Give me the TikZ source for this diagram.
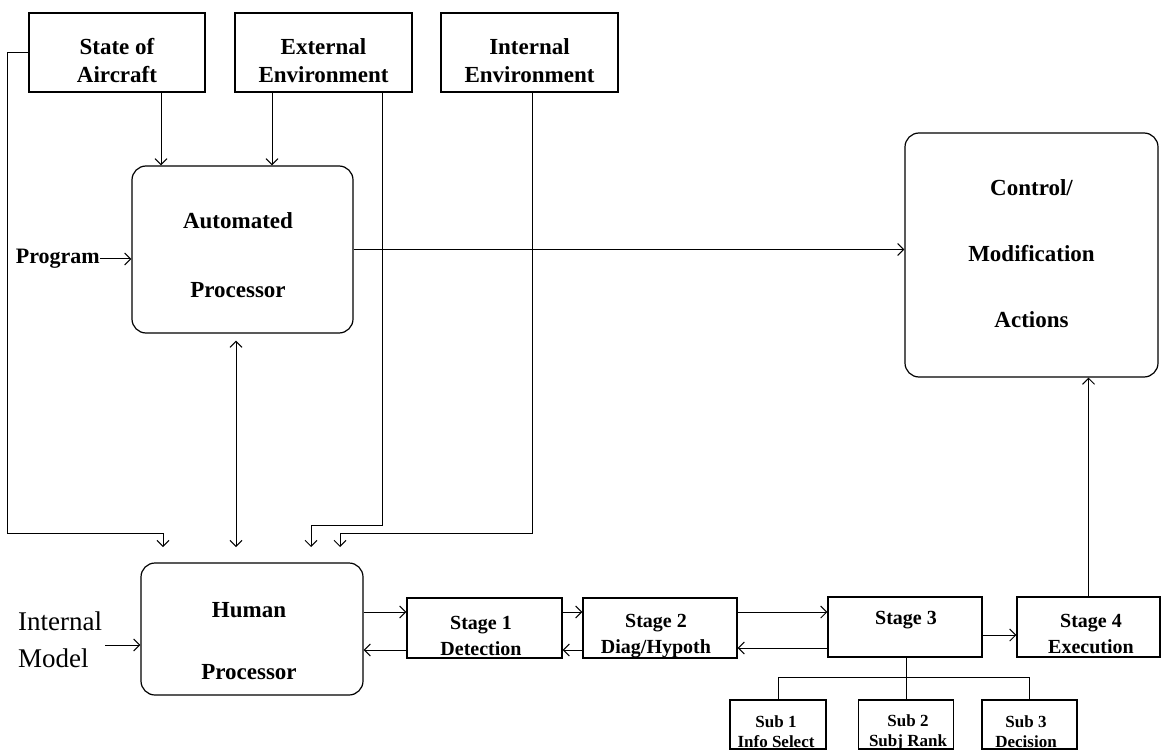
\documentclass[tikz,border=0pt]{standalone}
\usepackage{fontspec}
\setmainfont{Liberation Serif}
\usetikzlibrary{arrows.meta,calc}
\begin{document}
\begin{tikzpicture}[x=1pt,y=-1pt,
  box/.style={draw, line width=1.2pt, inner sep=0pt},
  rbox/.style={box, rounded corners=14pt},
  lbl/.style={align=center, inner sep=0pt, font=\bfseries\fontsize{23}{28}\selectfont},
  conn/.style={line width=1pt},
  arr/.style={conn, -{Straight Barb[length=6pt,width=12pt]}},
  darr/.style={conn, {Straight Barb[length=6pt,width=12pt]}-{Straight Barb[length=6pt,width=12pt]}}
]
\useasboundingbox (0,0) rectangle (1161,751);

% top boxes
\node[box, minimum width=176pt, minimum height=79pt] (state) at (117,52.5) {};
\node[lbl] (stateT) at (117,61) {State of\\Aircraft};
\node[box, minimum width=177pt, minimum height=79pt] (ext) at (323.5,52.5) {};
\node[lbl] (extT) at (323.5,61) {External\\Environment};
\node[box, minimum width=177pt, minimum height=79pt] (int) at (529.5,52.5) {};
\node[lbl] (intT) at (529.5,61) {Internal\\Environment};

% automated processor
\node[rbox, minimum width=221pt, minimum height=167pt] (auto) at (242.5,249.5) {};
\node[lbl, font=\bfseries\fontsize{23}{69}\selectfont] (autoT) at (238,255.5) {Automated\\Processor};
\node[lbl, font=\bfseries\fontsize{22}{26}\selectfont, anchor=east] (prog) at (100,259) {Program};
\draw[arr] (prog.east) -- (prog.east -| auto.west);

% control box
\node[rbox, minimum width=253pt, minimum height=244pt] (ctrl) at (1031.5,255) {};
\node[lbl, font=\bfseries\fontsize{23}{66}\selectfont] (ctrlT) at (1031.5,253.5) {Control/\\Modification\\Actions};
\draw[arr] (auto.east) -- (auto.east -| ctrl.west);

% human processor
\node[rbox, minimum width=222pt, minimum height=132pt] (hum) at (252,629) {};
\node[lbl, font=\bfseries\fontsize{23}{62}\selectfont] (humT) at (249,641) {Human\\Processor};
\node[align=left, inner sep=0pt, font=\fontsize{27}{37}\selectfont, anchor=west] (im) at (18,640) {Internal\\Model};
\coordinate (imA) at (105,645);
\draw[arr] (imA) -- (imA -| hum.west);

% inputs to human processor
\coordinate (t1) at (163,547);
\coordinate (t2) at (236,547);
\coordinate (t3) at (311,547);
\coordinate (t4) at (340,547);
\draw[arr] (state.west) -- (7,52.5) -- (7,533) -- (163,533) -- (t1);
\draw[arr] ([xshift=44pt]state.south) -- ([xshift=44pt]state.south |- auto.north);
\draw[arr] ([xshift=-51.5pt]ext.south) -- ([xshift=-51.5pt]ext.south |- auto.north);
\draw[arr] ([xshift=58.5pt]ext.south) -- ++(0,433) -| (t3);
\draw[arr] ([xshift=2.5pt]int.south) -- ++(0,441) -| (t4);
\draw[darr] ([yshift=-7pt]auto.south -| t2) -- (t2);

% stages
\tikzset{stlbl/.style={lbl, font=\bfseries\fontsize{20}{26}\selectfont}}
\node[box, minimum width=155pt, minimum height=60pt] (s1) at (484.5,628) {};
\node[stlbl] (s1T) at (481,636) {Stage 1\\Detection};
\node[box, minimum width=154pt, minimum height=60pt] (s2) at (660,628) {};
\node[stlbl] (s2T) at (656,636) {Stage 2\\Diag/Hypoth};
\node[box, minimum width=154pt, minimum height=60pt] (s3) at (905,627) {};
\node[stlbl] (s3T) at (906,620) {Stage 3};
\node[box, minimum width=143pt, minimum height=60pt] (s4) at (1088.5,627) {};
\node[stlbl] (s4T) at (1091,634) {Stage 4\\Execution};

\draw[arr] (hum.east |- 0,612) -- (s1.west |- 0,612);
\draw[arr] (s1.west |- 0,650) -- (hum.east |- 0,650);
\draw[arr] (s1.east |- 0,612) -- (s2.west |- 0,612);
\draw[arr] (s2.west |- 0,650) -- (s1.east |- 0,650);
\draw[arr] (s2.east |- 0,612) -- (s3.west |- 0,612);
\draw[arr] (s3.west |- 0,648) -- (s2.east |- 0,648);
\draw[arr] (s3.east |- 0,635) -- (s4.west |- 0,635);
\draw[arr] (s4.north) -- (s4.north |- ctrl.south);

% sub boxes
\tikzset{sublbl/.style={lbl, font=\bfseries\fontsize{17}{20}\selectfont}}
\node[box, minimum width=96pt, minimum height=49pt] (sub1) at (778,724.5) {};
\node[sublbl] (sub1T) at (776,732) {Sub 1\\Info Select};
\node[box, minimum width=95pt, minimum height=49pt] (sub2) at (906,724.5) {};
\node[sublbl] (sub2T) at (908,732) {Sub 2\\Subj Rank};
\node[box, minimum width=95pt, minimum height=49pt] (sub3) at (1029.5,724.5) {};
\node[sublbl] (sub3T) at (1026,732) {Sub 3\\Decision};
\draw[conn] (s3.south -| sub2.north) -- (sub2.north);
\draw[conn] (sub1.north) -- (sub1.north |- 0,677) -- (sub3.north |- 0,677) -- (sub3.north);
\end{tikzpicture}
\end{document}
